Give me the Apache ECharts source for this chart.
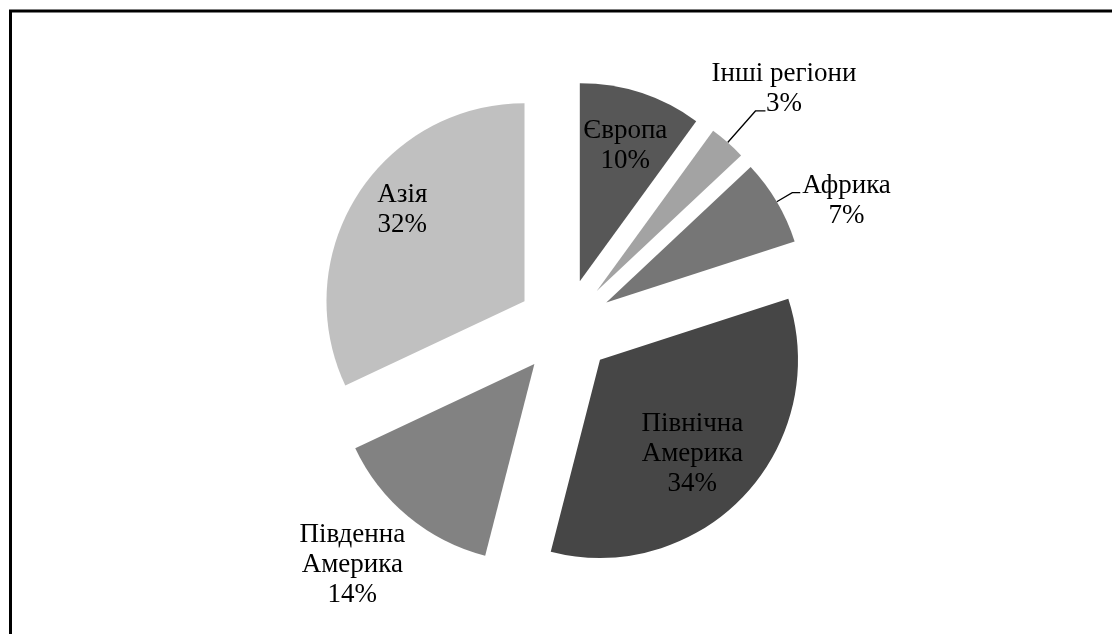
<!DOCTYPE html>
<html>
<head>
<meta charset="utf-8">
<title>Регіони</title>
<script src="https://cdn.jsdelivr.net/npm/echarts@6/dist/echarts.min.js"></script>
<style>
    html, body { margin: 0; padding: 0; background: #fff; }
    #main { width: 1112px; height: 634px; }
</style>
</head>
<body>
<div id="main"></div>
<script>
/* дані діаграми */
var regions = ['Європа', 'Інші регіони', 'Африка', 'Північна Америка', 'Південна Америка', 'Азія'];
var labelLines = ['Європа', 'Інші регіони', 'Африка', 'Північна\nАмерика', 'Південна\nАмерика', 'Азія'];
var shares = [10, 3, 7, 34, 14, 32];

/* оформлення */
var colors = ['#575757', '#a3a3a3', '#767676', '#464646', '#828282', '#c0c0c0'];
var labelPos = ['inside', 'outside', 'outside', 'inside', 'outside', 'inside'];
var showLeader = [false, true, true, false, false, false];
var leaderLen = [0, 42, 18, 0, 0, 0];
var leaderLen2 = [0, 10, 8, 0, 0, 0];
/* зсув підписів, px */
var nudgeX = [14, -57, -1, 18, 0, -36];
var nudgeY = [-38, -22, 8, 24, 48, -37];

(function () {
    'use strict';
    var chart = echarts.init(document.getElementById('main'));

    function buildLabel(i) {
        var rows = labelLines[i].split('\n');
        rows.push(shares[i] + '%');
        return rows.map(function (r) { return '{c|' + r + '}'; }).join('\n');
    }

    var items = regions.map(function (name, i) {
        return {
            name: name,
            value: shares[i],
            selected: true,
            itemStyle: { color: colors[i] },
            label: { position: labelPos[i] },
            labelLine: { show: showLeader[i], length: leaderLen[i], length2: leaderLen2[i] }
        };
    });

    chart.setOption({
        backgroundColor: '#fff',
        animation: false,
        graphic: [{
            type: 'rect',
            silent: true,
            z: 100,
            shape: { x: 10.5, y: 11, width: 1300, height: 900 },
            style: { fill: 'none', stroke: '#000', lineWidth: 3 }
        }],
        series: [{
            type: 'pie',
            center: [565, 327],
            radius: 198,
            startAngle: 90,
            clockwise: true,
            selectedMode: 'multiple',
            selectedOffset: 48,
            avoidLabelOverlap: false,
            emphasis: { disabled: true },
            label: {
                color: '#000',
                fontFamily: 'Liberation Serif',
                fontSize: 27,
                lineHeight: 30,
                distanceToLabelLine: 3,
                formatter: function (p) { return buildLabel(p.dataIndex); },
                rich: {
                    c: { align: 'center', fontFamily: 'Liberation Serif', fontSize: 27, lineHeight: 30, color: '#000' }
                }
            },
            labelLine: {
                lineStyle: { color: '#000', width: 1.3 }
            },
            labelLayout: function (p) {
                return { dx: nudgeX[p.dataIndex], dy: nudgeY[p.dataIndex] };
            },
            data: items
        }]
    });
})();
</script>
</body>
</html>
